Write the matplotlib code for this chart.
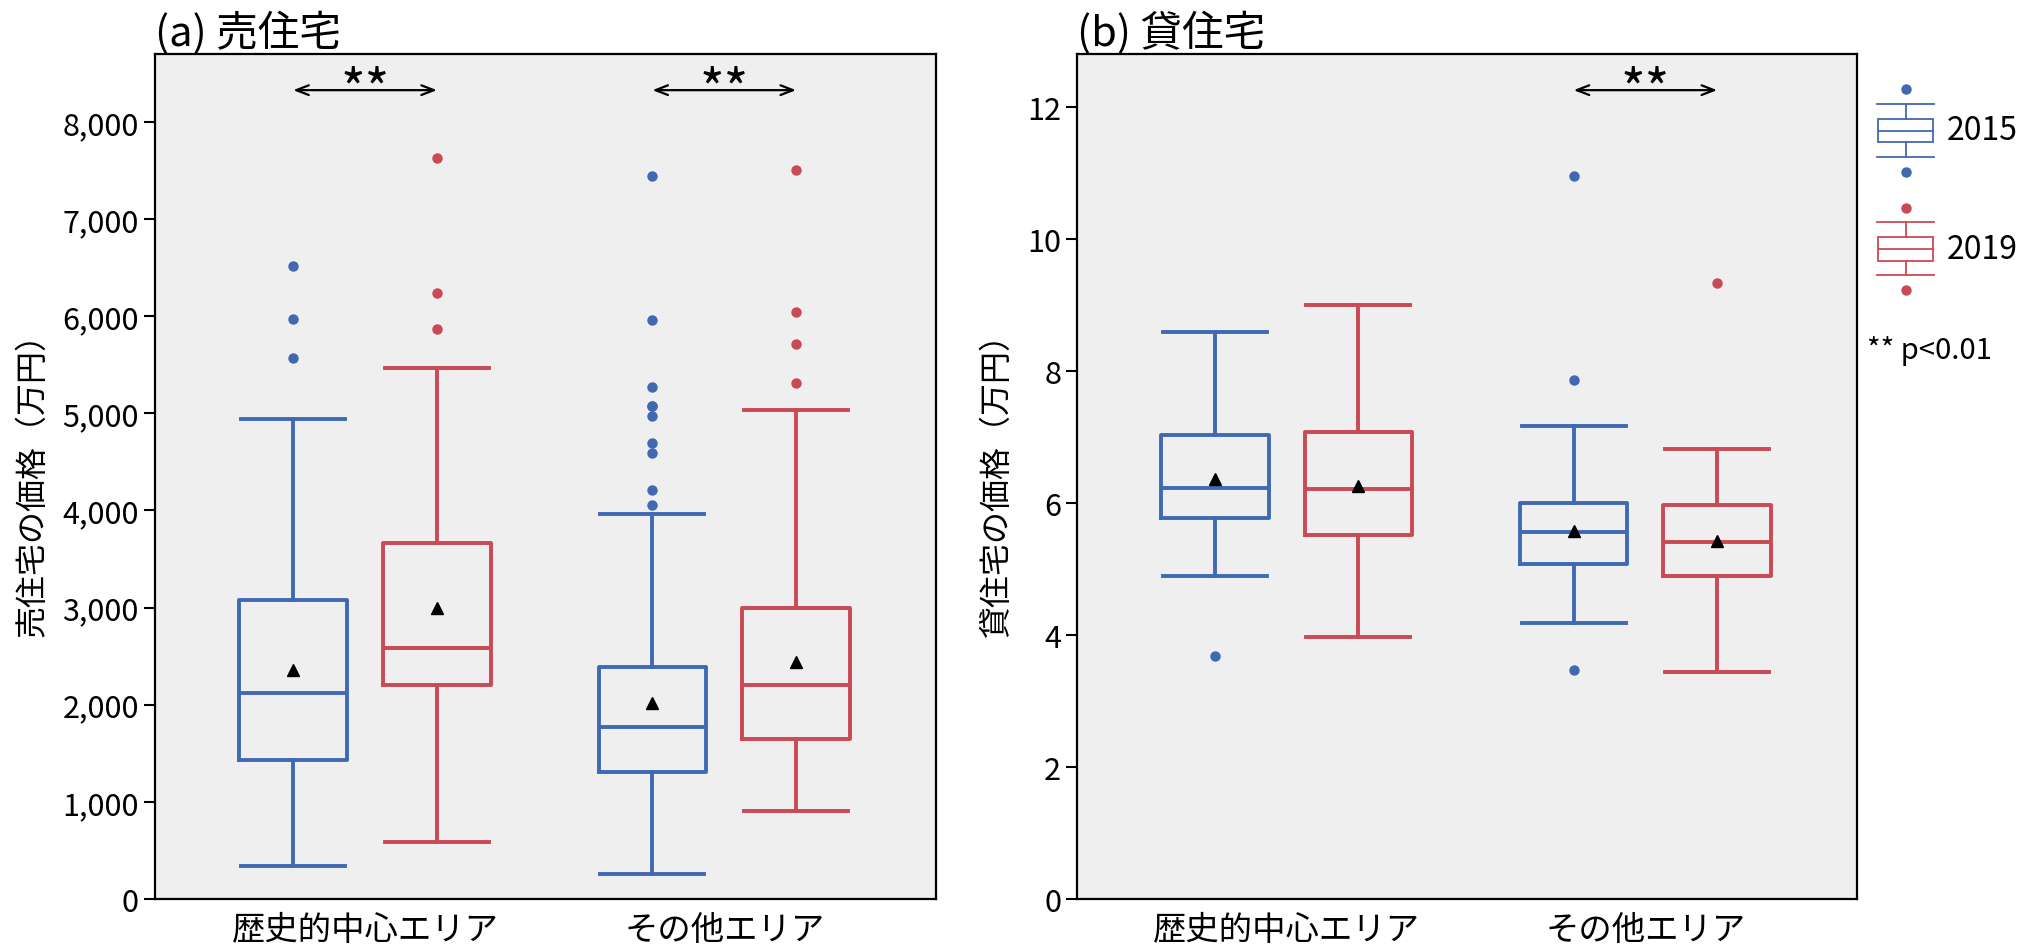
import matplotlib
matplotlib.use("Agg")
import matplotlib.pyplot as plt
from matplotlib.legend_handler import HandlerBase
from matplotlib.lines import Line2D
from matplotlib.patches import Rectangle, Patch
import matplotlib.transforms as mtransforms

plt.rcParams['font.family'] = ['Noto Sans CJK JP', 'DejaVu Sans']

areas = ['歴史的中心エリア', 'その他エリア']
years = ['2015', '2019']
blue = '#4169B2'
red = '#C94A55'

# (a) 売住宅 (万円)
sale_2015_whislo = [335, 260]
sale_2015_q1 = [1428, 1312]
sale_2015_med = [2121, 1775]
sale_2015_q3 = [3075, 2393]
sale_2015_whishi = [4936, 3960]
sale_2015_mean = [2358, 2017]
sale_2015_fliers = [[5566, 5971, 6514],
                    [4058, 4214, 4590, 4699, 4971, 5075, 5075, 5266, 5960, 7439]]

sale_2019_whislo = [590, 902]
sale_2019_q1 = [2208, 1642]
sale_2019_med = [2584, 2208]
sale_2019_q3 = [3665, 3000]
sale_2019_whishi = [5462, 5029]
sale_2019_mean = [3000, 2439]
sale_2019_fliers = [[5867, 6243, 7630], [5312, 5717, 6046, 7509]]

# (b) 貸住宅 (万円)
rent_2015_whislo = [4.89, 4.18]
rent_2015_q1 = [5.77, 5.07]
rent_2015_med = [6.23, 5.56]
rent_2015_q3 = [7.03, 5.99]
rent_2015_whishi = [8.59, 7.17]
rent_2015_mean = [6.36, 5.57]
rent_2015_fliers = [[3.68], [3.47, 7.86, 10.95]]

rent_2019_whislo = [3.97, 3.44]
rent_2019_q1 = [5.51, 4.89]
rent_2019_med = [6.21, 5.40]
rent_2019_q3 = [7.07, 5.96]
rent_2019_whishi = [8.99, 6.82]
rent_2019_mean = [6.25, 5.42]
rent_2019_fliers = [[], [9.33]]

sale_sig = [True, True]
rent_sig = [False, True]


def make_stats(whislo, q1, med, q3, whishi, mean, fliers):
    out = []
    for i in range(len(med)):
        out.append(dict(whislo=whislo[i], q1=q1[i], med=med[i], q3=q3[i],
                        whishi=whishi[i], mean=mean[i], fliers=fliers[i]))
    return out


def draw_boxes(ax, stats, pos, color):
    lw = 2.8
    ax.bxp(stats, positions=pos, widths=0.3, capwidths=0.29,
           showmeans=True, showfliers=True, patch_artist=False,
           boxprops=dict(color=color, linewidth=lw),
           whiskerprops=dict(color=color, linewidth=lw),
           capprops=dict(color=color, linewidth=lw),
           medianprops=dict(color=color, linewidth=lw),
           meanprops=dict(marker='^', markerfacecolor='black',
                          markeredgecolor='black', markersize=8),
           flierprops=dict(marker='o', markerfacecolor=color,
                           markeredgecolor=color, markersize=6.5))


class BoxHandler(HandlerBase):
    # legend glyph: small box plot with one flier above and below
    def create_artists(self, legend, orig_handle, xdescent, ydescent,
                       width, height, fontsize, trans):
        c = orig_handle.get_edgecolor()
        x0, y0 = -xdescent, -ydescent
        cx = x0 + width / 2
        lw = 1.3
        def y(f):
            return y0 + f * height
        arts = [
            Line2D([cx, cx], [y(0.185), y(0.356)], color=c, lw=lw),
            Line2D([cx, cx], [y(0.644), y(0.824)], color=c, lw=lw),
            Line2D([x0, x0 + width], [y(0.185)] * 2, color=c, lw=lw),
            Line2D([x0, x0 + width], [y(0.824)] * 2, color=c, lw=lw),
            Rectangle((x0 + 1, y(0.356)), width - 2, y(0.644) - y(0.356),
                      fill=False, edgecolor=c, lw=lw),
            Line2D([x0 + 1, x0 + width - 1], [y(0.5)] * 2, color=c, lw=lw),
            Line2D([cx], [y(1.0)], marker='o', color=c, markersize=6.5, lw=0),
            Line2D([cx], [y(0.0)], marker='o', color=c, markersize=6.5, lw=0),
        ]
        for a in arts:
            a.set_transform(trans)
        return arts


fig = plt.figure(figsize=(20.44, 9.45), dpi=100)
ax1 = fig.add_axes([0.0758, 0.0476, 0.3822, 0.8944])
ax2 = fig.add_axes([0.5269, 0.0476, 0.3816, 0.8944])

panels = [
    (ax1, '(a) 売住宅', '売住宅の価格（万円）',
     make_stats(sale_2015_whislo, sale_2015_q1, sale_2015_med, sale_2015_q3,
                sale_2015_whishi, sale_2015_mean, sale_2015_fliers),
     make_stats(sale_2019_whislo, sale_2019_q1, sale_2019_med, sale_2019_q3,
                sale_2019_whishi, sale_2019_mean, sale_2019_fliers),
     sale_sig, (0, 8700), range(0, 8001, 1000)),
    (ax2, '(b) 貸住宅', '貸住宅の価格（万円）',
     make_stats(rent_2015_whislo, rent_2015_q1, rent_2015_med, rent_2015_q3,
                rent_2015_whishi, rent_2015_mean, rent_2015_fliers),
     make_stats(rent_2019_whislo, rent_2019_q1, rent_2019_med, rent_2019_q3,
                rent_2019_whishi, rent_2019_mean, rent_2019_fliers),
     rent_sig, (0, 12.8), range(0, 13, 2)),
]

cats = [1, 2]
off = 0.2
for ax, title, ylabel, st15, st19, sig, ylim, yticks in panels:
    ax.set_facecolor('#EFEFEF')
    draw_boxes(ax, st15, [c - off for c in cats], blue)
    draw_boxes(ax, st19, [c + off for c in cats], red)
    ax.set_xlim(0.415, 2.59)
    ax.set_ylim(*ylim)
    ax.set_xticks(cats)
    ax.set_xticklabels(areas, fontsize=24)
    ax.set_yticks(list(yticks))
    if ax is ax1:
        ax.set_yticklabels([f'{v:,}' for v in yticks])
    ax.tick_params(axis='y', labelsize=22, length=8, width=1.5)
    ax.tick_params(axis='x', length=0, pad=9)
    ax.set_ylabel(ylabel, fontsize=23, labelpad=10)
    ax.set_title(title, loc='left', fontsize=30, pad=5)
    for s in ax.spines.values():
        s.set_linewidth(1.6)
    tr = mtransforms.blended_transform_factory(ax.transData, ax.transAxes)
    for c, flag in zip(cats, sig):
        if flag:
            ax.annotate('', xy=(c + off, 0.957), xytext=(c - off, 0.957),
                        xycoords=tr, textcoords=tr,
                        arrowprops=dict(arrowstyle='<->,head_length=0.9,head_width=0.35',
                                        color='black', lw=1.6,
                                        shrinkA=0, shrinkB=0))
            ax.text(c, 0.936, '**', transform=tr, ha='center', va='baseline',
                    fontsize=38)

handles = [Patch(edgecolor=blue, facecolor='none'),
           Patch(edgecolor=red, facecolor='none')]
fig.legend(handles, years, handler_map={Patch: BoxHandler()},
           loc='upper left', bbox_to_anchor=(0.912, 0.918), frameon=False,
           fontsize=23, handlelength=1.8, handleheight=3.6,
           labelspacing=1.12, handletextpad=0.4, borderaxespad=0)
fig.text(0.9135, 0.629, '** p<0.01', fontsize=21, va='center', ha='left')

fig.savefig('out.png', dpi=100)
